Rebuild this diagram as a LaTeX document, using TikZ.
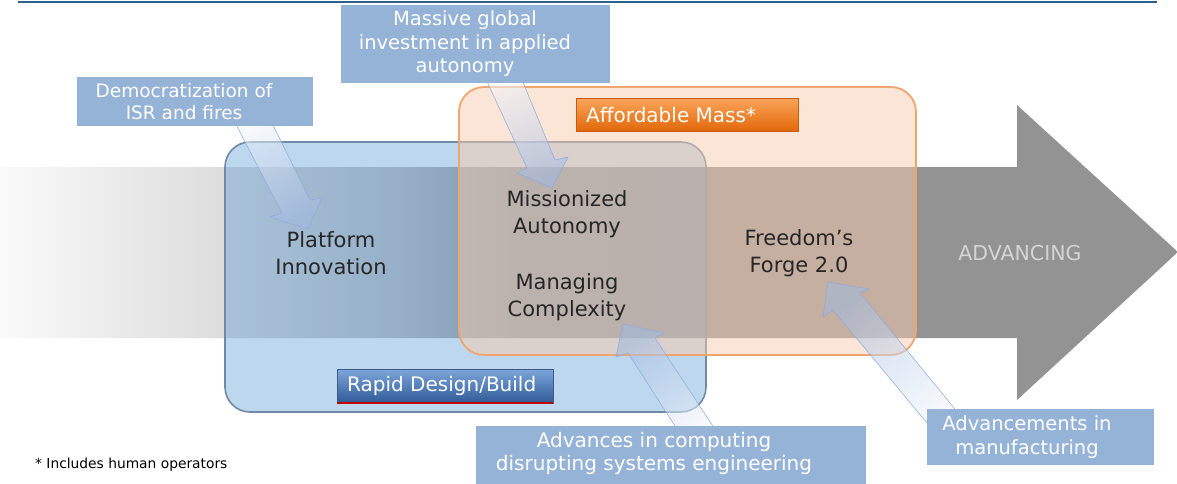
\documentclass[tikz,border=0pt]{standalone}
\usepackage{fontspec}
\setmainfont{DejaVu Sans}
\definecolor{topline}{RGB}{46,96,140}
\definecolor{arrowgray}{RGB}{147,147,147}
\definecolor{gA}{RGB}{250,250,250}
\definecolor{gB}{RGB}{221,221,221}
\definecolor{gC}{RGB}{190,190,190}
\definecolor{gD}{RGB}{152,152,152}
\definecolor{bluefill}{RGB}{91,155,213}
\definecolor{blueedge}{RGB}{112,138,165}
\definecolor{orangefill}{RGB}{248,203,173}
\definecolor{orangeedge}{RGB}{240,165,110}
\definecolor{callout}{RGB}{149,179,215}
\definecolor{labeltext}{RGB}{38,38,38}
\definecolor{advtext}{RGB}{212,212,212}
\definecolor{blkhead}{RGB}{160,186,225}
\definecolor{blktail}{RGB}{242,246,251}
\definecolor{blkedge}{RGB}{143,170,220}
\definecolor{amtop}{RGB}{250,165,90}
\definecolor{ambot}{RGB}{226,104,10}
\definecolor{amedge}{RGB}{197,90,17}
\definecolor{rdtop}{RGB}{126,166,219}
\definecolor{rdbot}{RGB}{46,90,150}
\definecolor{rdedge}{RGB}{56,93,138}
\definecolor{rdred}{RGB}{192,0,0}
\pgfdeclarehorizontalshading{bigarrowshade}{100bp}{color(0bp)=(gA); color(25bp)=(gA); color(34.35bp)=(gB); color(42bp)=(gC); color(47.1bp)=(gD); color(55bp)=(arrowgray); color(100bp)=(arrowgray)}
\tikzset{
  mainlabel/.style={text=labeltext, align=center, font=\fontsize{21}{26.5}\selectfont, inner sep=0pt},
  calloutbox/.style={fill=callout, inner sep=0pt},
  callouttext/.style={text=white, align=center, inner sep=0pt},
  blockarrow/.style={draw=blkedge, line width=0.6pt, top color=blktail, bottom color=blkhead, fill opacity=0.55, draw opacity=0.9},
  bluebox/.style={draw=blueedge, line width=1.6pt, fill=bluefill, fill opacity=0.4, rounded corners=25pt, inner sep=0pt},
  orangebox/.style={draw=orangeedge, line width=1.8pt, fill=orangefill, fill opacity=0.5, rounded corners=25pt, inner sep=0pt},
  tagtext/.style={text=white, font=\fontsize{20}{24}\selectfont, inner sep=0pt, anchor=west}
}
\begin{document}
\begin{tikzpicture}[x=1pt, y=-1pt]
\useasboundingbox (0,0) rectangle (1177,483);
% top rule
\coordinate (ruleL) at (18,2);
\coordinate (ruleR) at (1157,2);
\draw[topline, line width=2.5pt] (ruleL) -- (ruleR);
% big advancing arrow
\shade[shading=bigarrowshade] (0,167) -- (1017,167) -- (1017,105) -- (1178,252) -- (1017,400) -- (1017,338) -- (0,338) -- cycle;
\node[text=advtext, font=\fontsize{20.5}{24}\selectfont, inner sep=0pt] (adv) at (1020,253) {ADVANCING};
% group boxes
\node[bluebox, minimum width=481pt, minimum height=270pt] (blue) at (465.5,277) {};
\node[orangebox, minimum width=457pt, minimum height=268pt] (orange) at (687.5,221) {};
% block arrows
\path[blockarrow, shading angle=27] (231,115) -- (282,213) -- (270,217) -- (308,229) -- (322,198) -- (310,200) -- (268,115) -- cycle;
\path[blockarrow, shading angle=24] (484,75) -- (527,168) -- (517,173) -- (552,188) -- (568,157) -- (555,160) -- (520,75) -- cycle;
\path[blockarrow, shading angle=215] (684,440) -- (628,353) -- (616,357) -- (623,324) -- (664,333) -- (655,338) -- (722,440) -- cycle;
\path[blockarrow, shading angle=220] (937,435) -- (833,310) -- (823,317) -- (828,282) -- (869,289) -- (860,293) -- (968,425) -- cycle;
% callouts
\node[calloutbox, minimum width=236pt, minimum height=49pt] (democ) at (195,101.5) {};
\node[callouttext, font=\fontsize{18.5}{22}\selectfont] (democT) at (184,102) {Democratization of\\ISR and fires};
\node[calloutbox, minimum width=269pt, minimum height=78pt] (massive) at (475.5,44) {};
\node[callouttext, font=\fontsize{19.5}{23.5}\selectfont] (massiveT) at (465,44) {Massive global\\investment in applied\\autonomy};
\node[calloutbox, minimum width=390pt, minimum height=64pt] (comp) at (671,458) {};
\node[callouttext, font=\fontsize{20}{23}\selectfont] (compT) at (654,453) {Advances in computing\\disrupting systems engineering};
\node[calloutbox, minimum width=227pt, minimum height=56pt] (manuf) at (1040.5,437) {};
\node[callouttext, font=\fontsize{19.5}{24}\selectfont] (manufT) at (1027,437) {Advancements in\\manufacturing};
% tag boxes
\node[draw=amedge, line width=0.8pt, top color=amtop, bottom color=ambot, minimum width=222pt, minimum height=33pt, inner sep=0pt] (am) at (687,114.5) {};
\node[tagtext] (amT) at (586,115) {Affordable Mass*};
\node[draw=rdedge, line width=0.8pt, top color=rdtop, bottom color=rdbot, minimum width=216pt, minimum height=34pt, inner sep=0pt] (rd) at (445,386) {};
\draw[rdred, line width=2pt] (rd.south west) -- (rd.south east);
\node[tagtext] (rdT) at (347,386) {Rapid Design/Build};
% main labels
\node[mainlabel] (platform) at (331,253) {Platform\\Innovation};
\node[mainlabel] (mission) at (567,214) {Missionized\\Autonomy};
\node[mainlabel] (complex) at (567,297) {Managing\\Complexity};
\node[mainlabel] (forge) at (799,253) {Freedom’s\\Forge 2.0};
% footnote
\node[anchor=west, inner sep=0pt, font=\fontsize{13.8}{16}\selectfont] (note) at (35,465) {* Includes human operators};
\end{tikzpicture}
\end{document}
